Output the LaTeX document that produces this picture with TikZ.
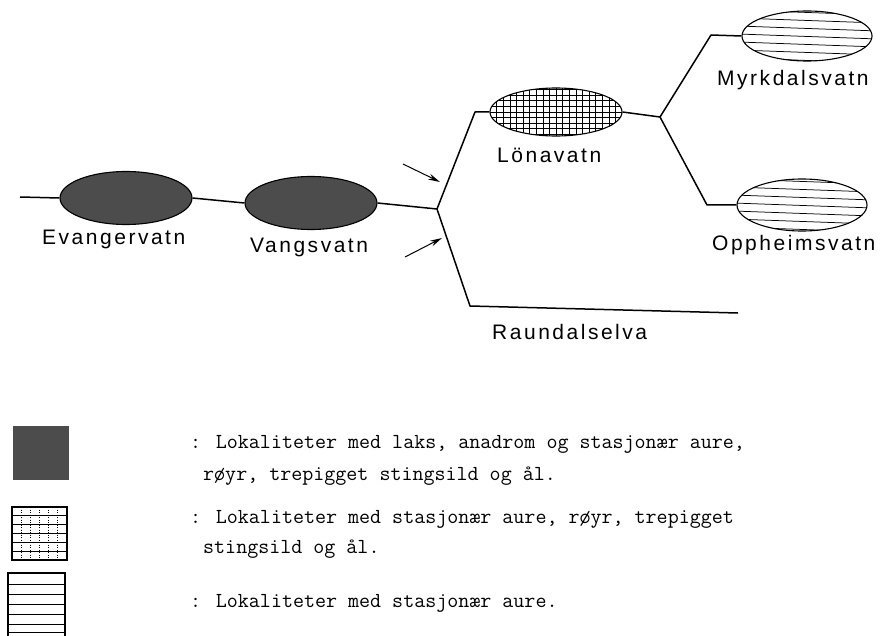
\documentclass[tikz,border=0pt]{standalone}
\usepackage{fontspec}
\setmainfont{Liberation Sans}
\newfontfamily\labelfont[LetterSpace=12]{Liberation Sans}
\usetikzlibrary{shapes.geometric,arrows.meta}
\definecolor{dkgray}{RGB}{76,76,76}
\begin{document}
\begin{tikzpicture}[x=1pt,y=-1pt,
  lake/.style={ellipse, draw, line width=1.1pt, inner sep=0pt, minimum width=132pt, minimum height=50pt},
  darklake/.style={lake, fill=dkgray, minimum height=53pt},
  gridlake/.style={lake, path picture={\draw[line width=0.6pt] (path picture bounding box.south west) grid[xstep=6.6pt,ystep=5.6pt] (path picture bounding box.north east);}},
  hatchlake/.style={lake, path picture={\foreach \k in {-3,...,3}{\draw[line width=0.75pt] ([yshift=\k*8pt+2pt, xshift=-4pt]path picture bounding box.west) -- ++(140pt,-5pt);}}},
  river/.style={line width=1.5pt, line join=round},
  arrowline/.style={line width=1pt, -{Stealth[length=12pt,width=6pt]}},
  lbl/.style={font=\labelfont\fontsize{21}{21}\selectfont, anchor=base west, inner sep=0pt},
  leg/.style={font=\ttfamily\fontsize{21.4}{22}\selectfont, anchor=base west, inner sep=0pt}
]
\useasboundingbox (0,0) rectangle (880,636);

% lakes
\node[darklake] (ev) at (126,198) {};
\node[darklake] (va) at (311,203) {};
\node[gridlake, minimum height=48pt] (lo) at (556,112) {};
\node[hatchlake, minimum width=130pt] (my) at (807,36) {};
\node[hatchlake, minimum width=130pt, minimum height=52pt] (op) at (802,205) {};

% river points
\coordinate (w0) at (20,197);
\coordinate (j1) at (437,209);
\coordinate (c1) at (475,112);
\coordinate (j2) at (660,117);
\coordinate (c2) at (711,35);
\coordinate (c3) at (707,205);
\coordinate (c4) at (470,306);
\coordinate (c5) at (738,313);

\draw[river] (w0) -- (ev.west);
\draw[river] (ev.east) -- (va.west);
\draw[river] (va.east) -- (j1);
\draw[river] (j1) -- (c1) -- (lo.west);
\draw[river] (lo.east) -- (j2);
\draw[river] (j2) -- (c2) -- (my.west);
\draw[river] (j2) -- (c3) -- (op.west);
\draw[river] (j1) -- (c4) -- (c5);

% arrows
\coordinate (a1) at (403,164);
\coordinate (a1t) at (440,182);
\coordinate (a2) at (405,257);
\coordinate (a2t) at (442,238);
\draw[arrowline] (a1) -- (a1t);
\draw[arrowline] (a2) -- (a2t);

% labels
\node[lbl] (tev) at (42,245) {Evangervatn};
\node[lbl] (tva) at (250,253) {Vangsvatn};
\node[lbl] (tlo) at (497,163) {Lönavatn};
\node[lbl] (tmy) at (717,86) {Myrkdalsvatn};
\node[lbl] (tlop) at (712,251) {Oppheimsvatn};
\node[lbl] (tra) at (492,339) {Raundalselva};

% legend symbols
\fill[dkgray] (13,426) rectangle (69,480);
\draw[line width=1.5pt] (12,507) rectangle (67,560);
\foreach \yy in {515,524,533,542,551} \draw[line width=0.8pt] (12,\yy) -- (67,\yy);
\foreach \xx in {21,30,39,48,57} \draw[line width=0.5pt, dotted] (\xx,507) -- (\xx,560);
\draw[line width=1.5pt] (8,636) -- (8,573) -- (65,573) -- (65,636);
\foreach \yy in {584,594,604,614,624,632} \draw[line width=0.9pt] (8,\yy) -- (65,\yy);

% legend text
\node[leg] (l1) at (190,448) {: Lokaliteter med laks, anadrom og stasjonær aure,};
\node[leg] (l2) at (203,480) {røyr, trepigget stingsild og ål.};
\node[leg] (l3) at (190,523) {: Lokaliteter med stasjonær aure, røyr, trepigget};
\node[leg] (l4) at (203,553) {stingsild og ål.};
\node[leg] (l5) at (190,607) {: Lokaliteter med stasjonær aure.};
\end{tikzpicture}
\end{document}
